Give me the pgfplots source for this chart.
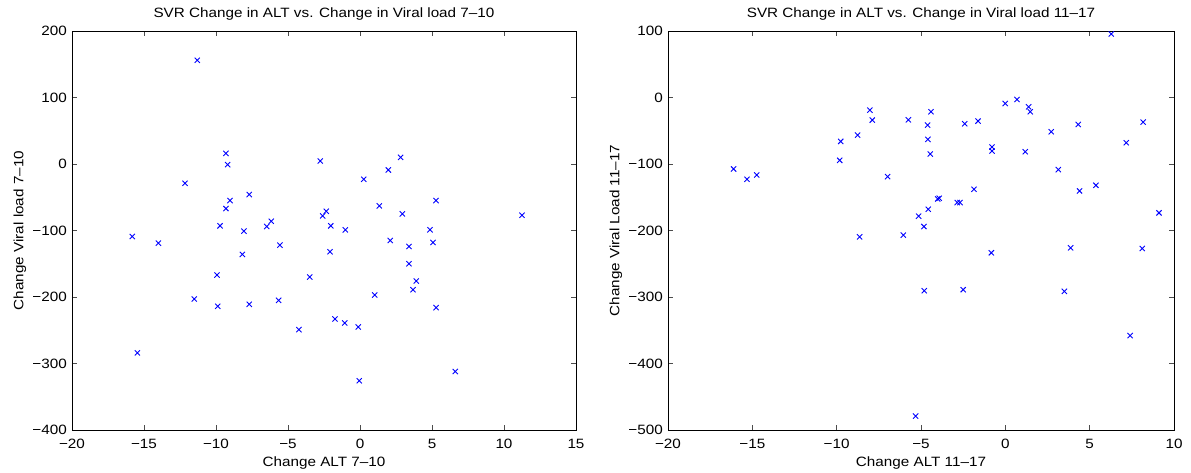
\documentclass[border=0pt]{standalone}
\usepackage{fontspec}
\setmainfont[FakeStretch=1.13]{Liberation Sans}
\usepackage{pgfplots}
\pgfplotsset{compat=1.18}

\definecolor{markblue}{RGB}{0,0,255}

\pgfplotsset{
  every axis title shift=0pt,
  svrstyle/.style={
    scale only axis,
    width=504pt, height=399pt,
    axis line style={line width=0.8pt},
    tick style={line width=0.6pt, black!70},
    major tick length=5pt,
    tick align=inside,
    font=\fontsize{13.5}{15}\selectfont,
    ticklabel style={font=\fontsize{13.5}{15}\selectfont},
    xticklabel style={inner sep=0pt, anchor=north, yshift=-9pt},
    yticklabel style={inner sep=0pt, anchor=east, xshift=-5pt},
    title style={at={(axis description cs:0.5,1.0426)}, anchor=center, inner sep=0pt},
    xlabel style={at={(axis description cs:0.5,-0.0827)}, anchor=center, inner sep=0pt},
    clip=false,
  },
  svrmarks/.style={only marks, mark=x, mark size=3.7pt, color=markblue,
    mark options={line width=0.9pt}},
}

\begin{document}
\begin{tikzpicture}
\useasboundingbox (-72pt,-42pt) rectangle (1119pt,430pt);

% Left panel: weeks 7-10
\begin{axis}[svrstyle,
  at={(0,0)}, anchor=south west,
  xmin=-20, xmax=15, ymin=-400, ymax=200,
  xtick={-20,-15,-10,-5,0,5,10,15},
  xticklabels={−20,−15,−10,−5,0,5,10,15},
  ytick={-400,-300,-200,-100,0,100,200},
  yticklabels={−400,−300,−200,−100,0,100,200},
  ylabel style={at={(axis description cs:-0.1032,0.5)}, anchor=center, inner sep=0pt},
  title={SVR Change in ALT vs. Change in Viral load 7–10},
  xlabel={Change ALT 7–10},
  ylabel={Change Viral load 7–10},
]
\addplot[svrmarks] coordinates {
(-11.30,156) (-9.31,16) (-9.19,-1) (-12.15,-29) (-7.69,-46)
(-9.03,-55) (-9.31,-67) (-9.72,-93) (-8.06,-101) (-6.48,-94)
(-6.16,-86) (-2.76,4.5) (2.82,10) (1.97,-9) (0.26,-23)
(5.28,-55) (1.34,-63) (-2.34,-71) (-2.59,-78) (2.94,-75)
(11.25,-77) (-2.03,-93) (-1.02,-99) (4.86,-99) (2.10,-115)
(5.07,-118) (3.40,-124) (-2.08,-132) (3.40,-150) (-3.49,-170)
(3.91,-176) (3.68,-189) (1.02,-197) (5.28,-216) (-1.74,-233)
(-1.06,-239) (-0.12,-245) (-4.24,-249) (6.62,-312) (-0.05,-326)
(-15.81,-109) (-14.00,-119) (-5.56,-122) (-8.17,-136) (-9.93,-167)
(-11.51,-203) (-9.88,-214) (-7.69,-211) (-5.65,-205) (-15.46,-284)
};
\end{axis}

% Right panel: weeks 11-17
\begin{axis}[svrstyle,
  at={(596pt,0)}, anchor=south west,
  width=506pt,
  xmin=-20, xmax=10, ymin=-500, ymax=100,
  xtick={-20,-15,-10,-5,0,5,10},
  xticklabels={−20,−15,−10,−5,0,5,10},
  ytick={-500,-400,-300,-200,-100,0,100},
  yticklabels={−500,−400,−300,−200,−100,0,100},
  ylabel style={at={(axis description cs:-0.1028,0.5)}, anchor=center, inner sep=0pt},
  title={SVR Change in ALT vs. Change in Viral load 11–17},
  xlabel={Change ALT 11–17},
  ylabel={Change Viral Load 11–17},
]
\addplot[svrmarks] coordinates {
(-16.11,-107.5) (-15.32,-123) (-14.74,-116.5) (-9.82,-94.5) (-9.76,-66)
(-8.76,-56.5) (-8.03,-19) (-7.89,-34) (-6.98,-119) (-5.75,-33.5)
(6.28,95.5) (-4.41,-21.5) (-4.61,-41.5) (-4.59,-63) (-4.45,-85)
(-2.41,-39.5) (-1.62,-35.5) (-0.01,-9) (0.69,-3) (1.38,-14)
(1.48,-21.5) (-0.79,-74.5) (-0.79,-80.5) (1.18,-81.5) (2.72,-51.5)
(4.32,-40.5) (8.17,-37) (7.17,-68) (3.14,-108.5) (-1.86,-138)
(4.40,-140.5) (5.37,-132) (-3.92,-151.5) (-4.01,-152.5) (-2.85,-158)
(-2.69,-158) (-4.57,-168) (-5.14,-178.5) (-4.83,-194) (9.11,-173.5)
(-8.64,-209.5) (-6.05,-207) (-5.32,-479) (-0.83,-233.5) (3.87,-226)
(8.12,-227) (-4.81,-290.5) (-2.50,-289) (3.50,-291.5) (7.40,-358)
};
\end{axis}
\end{tikzpicture}
\end{document}
